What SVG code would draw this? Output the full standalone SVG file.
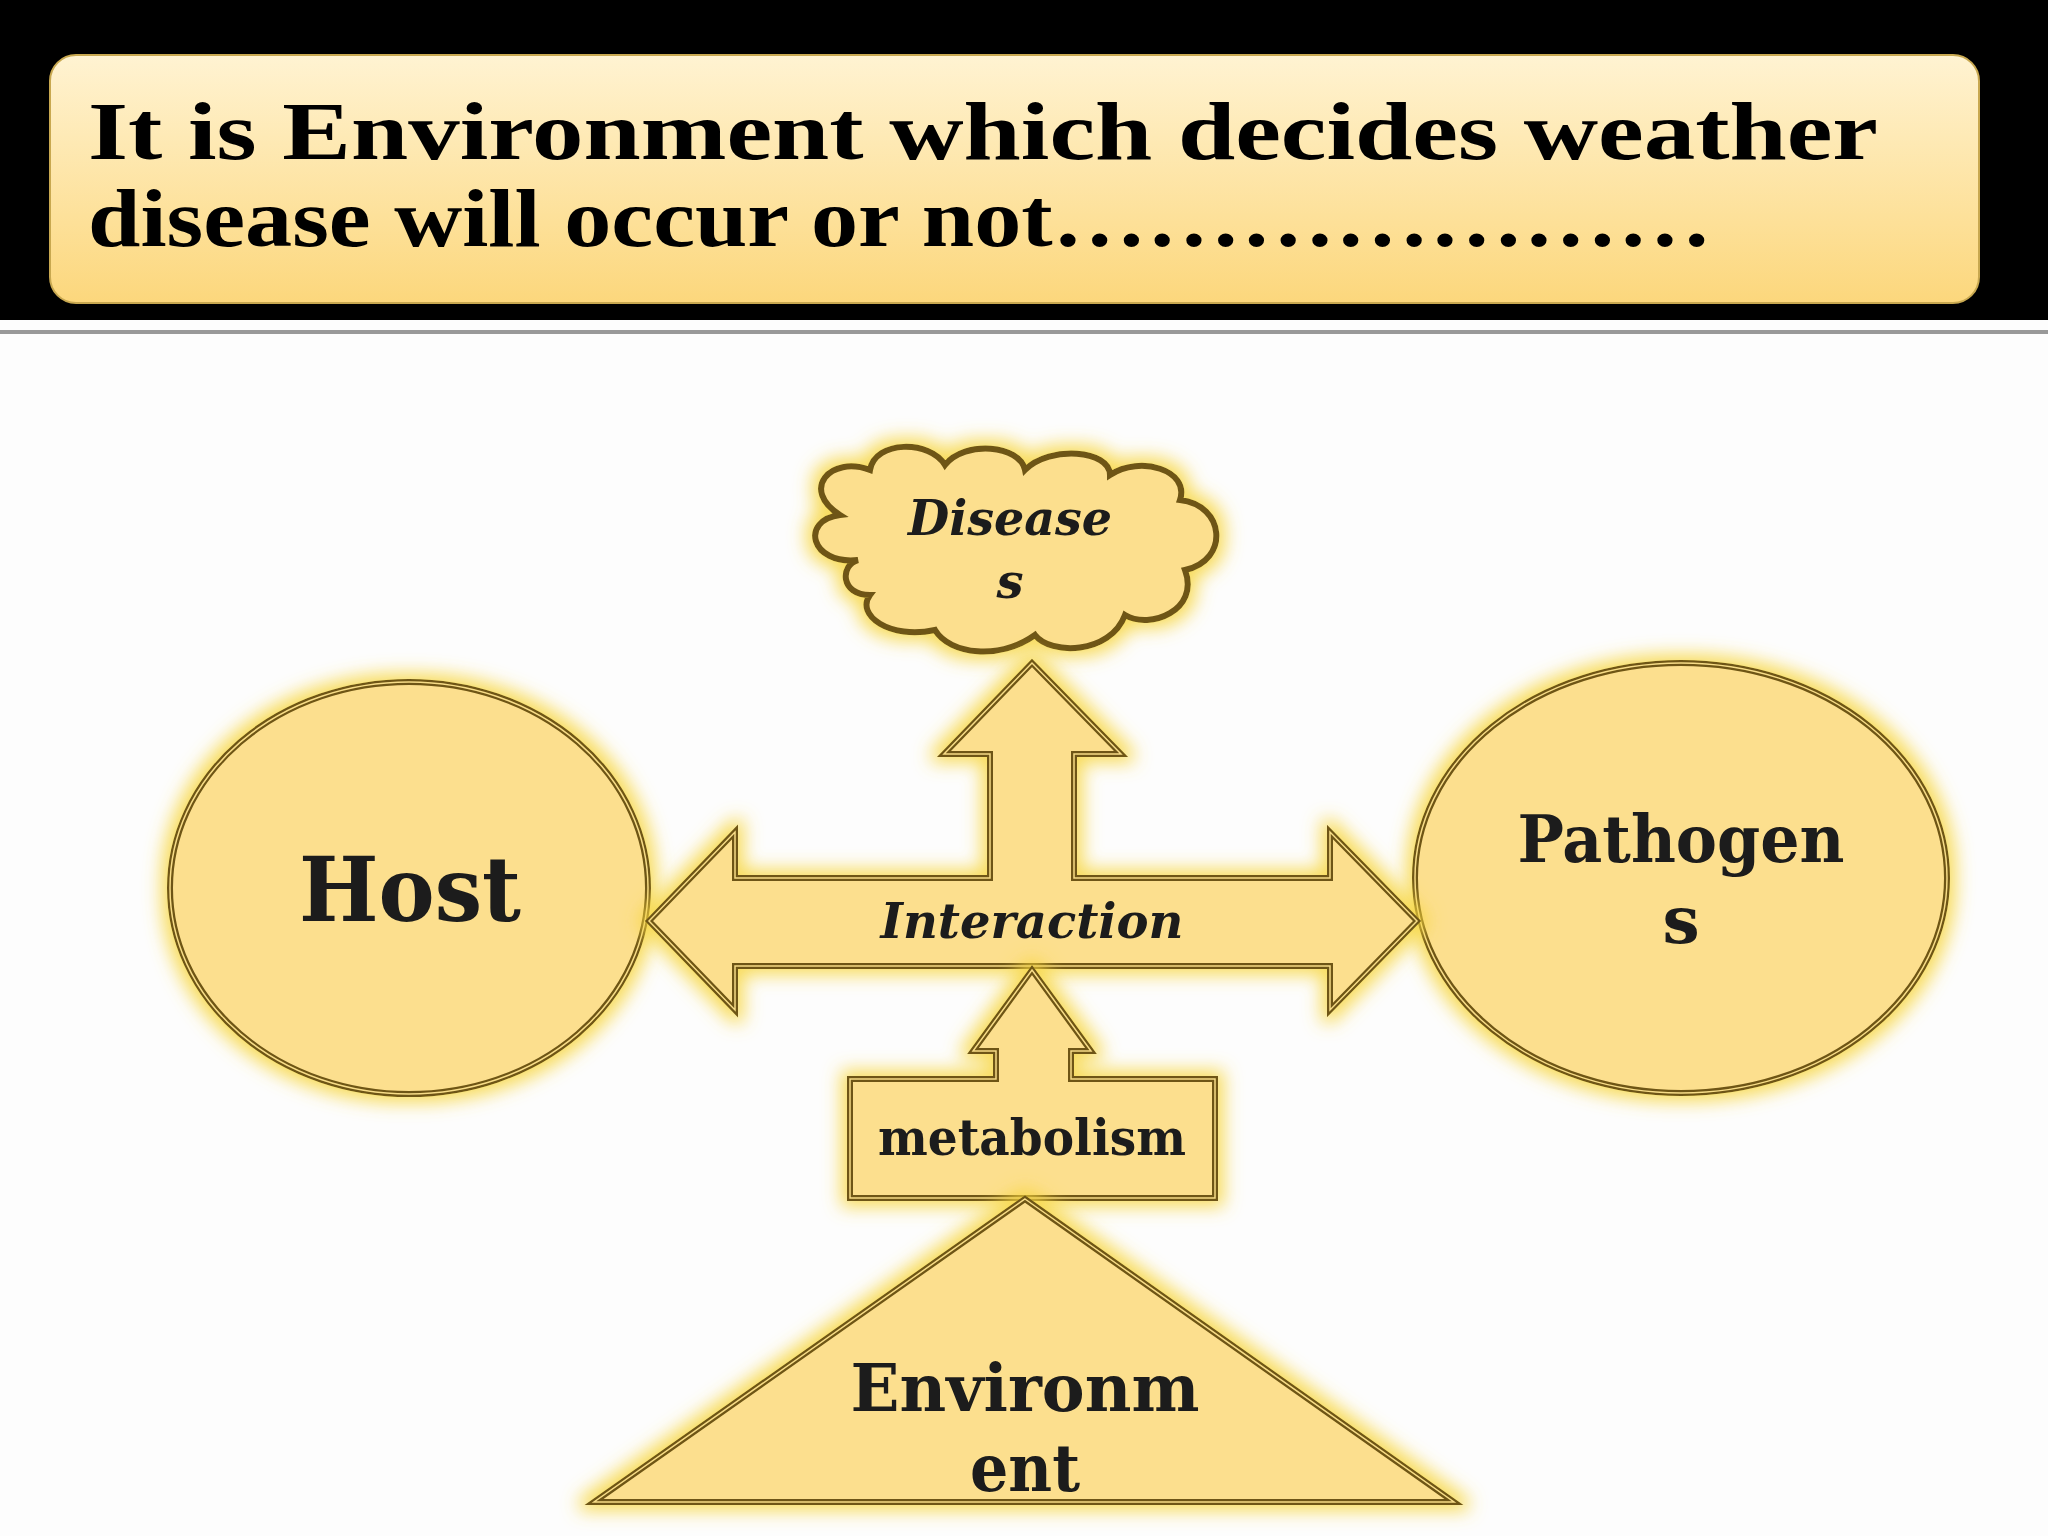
<svg xmlns="http://www.w3.org/2000/svg" width="2048" height="1536" viewBox="0 0 2048 1536">
<defs>
<linearGradient id="tg" x1="0" y1="0" x2="0" y2="1"><stop offset="0" stop-color="#fff3d2"/><stop offset="1" stop-color="#fcd77c"/></linearGradient>
<filter id="glow" x="-20%" y="-20%" width="140%" height="140%">
<feMorphology in="SourceAlpha" operator="dilate" radius="6" result="d"/>
<feGaussianBlur in="d" stdDeviation="9" result="b"/>
<feFlood flood-color="#f7d640" flood-opacity="0.85"/>
<feComposite in2="b" operator="in" result="g"/>
<feMerge><feMergeNode in="g"/><feMergeNode in="SourceGraphic"/></feMerge>
</filter>
<style>
.s{fill:#fcdf8e;stroke:#6e5512;stroke-width:6;stroke-linejoin:miter}
.i{fill:none;stroke:#f7dc88;stroke-width:1.5}
.t{font-family:"DejaVu Serif","Liberation Serif",serif;font-weight:bold;fill:#1a1a1a;text-anchor:middle}
.it{font-style:italic}
</style>
</defs>
<rect width="2048" height="1536" fill="#fdfdfd"/>
<rect width="2048" height="320" fill="#000"/>
<rect x="0" y="330" width="2048" height="4" fill="#999"/>
<g id="title">
<rect x="50" y="55" width="1929" height="248" rx="26" fill="url(#tg)" stroke="#c8a850" stroke-width="2"/>
<text x="88" y="159" font-family="Liberation Serif,serif" font-weight="bold" font-size="82" textLength="1790" lengthAdjust="spacingAndGlyphs">It is Environment which decides weather</text>
<text x="88" y="246" font-family="Liberation Serif,serif" font-weight="bold" font-size="82" textLength="1624" lengthAdjust="spacingAndGlyphs">disease will occur or not…………………</text>
</g>
<g id="host" filter="url(#glow)">
<ellipse class="s" cx="409" cy="888" rx="239" ry="206"/><ellipse class="i" cx="409" cy="888" rx="239" ry="206"/>
<text class="t" x="410" y="921" font-size="90" textLength="222" lengthAdjust="spacingAndGlyphs">Host</text>
</g>
<g id="pathogens" filter="url(#glow)">
<ellipse class="s" cx="1681" cy="878" rx="266" ry="215"/><ellipse class="i" cx="1681" cy="878" rx="266" ry="215"/>
<text class="t" x="1681" y="862" font-size="66" textLength="327" lengthAdjust="spacingAndGlyphs">Pathogen</text>
<text class="t" x="1681" y="943" font-size="66">s</text>
</g>
<g id="diseases" filter="url(#glow)">
<path class="s" d="M858,560 C810,565 800,520 840,515 C800,490 830,455 870,470 C875,440 930,440 945,465 C965,440 1020,445 1025,470 C1050,445 1110,450 1110,475 C1140,455 1190,470 1180,500 C1225,505 1230,560 1185,570 C1200,610 1150,630 1125,615 C1110,655 1050,655 1035,635 C1000,660 950,655 935,630 C890,640 855,615 870,595 C840,595 840,565 858,560 Z"/>
<text class="t it" x="1010" y="535" font-size="48" textLength="204" lengthAdjust="spacingAndGlyphs">Disease</text>
<text class="t it" x="1010" y="598" font-size="48">s</text>
</g>
<g id="interaction" filter="url(#glow)">
<path class="s" d="M649,921 L735,832 L735,878 L990,878 L990,754 L944,754 L1032,663 L1121,754 L1074,754 L1074,878 L1330,878 L1330,832 L1417,921 L1330,1010 L1330,966 L735,966 L735,1010 Z"/>
<path class="i" d="M649,921 L735,832 L735,878 L990,878 L990,754 L944,754 L1032,663 L1121,754 L1074,754 L1074,878 L1330,878 L1330,832 L1417,921 L1330,1010 L1330,966 L735,966 L735,1010 Z"/>
<text class="t it" x="1032" y="938" font-size="48" textLength="303" lengthAdjust="spacingAndGlyphs">Interaction</text>
</g>
<g id="metabolism" filter="url(#glow)">
<path class="s" d="M1032,970 L1091,1051 L1071,1051 L1071,1079 L1215,1079 L1215,1198 L850,1198 L850,1079 L996,1079 L996,1051 L973,1051 Z"/>
<path class="i" d="M1032,970 L1091,1051 L1071,1051 L1071,1079 L1215,1079 L1215,1198 L850,1198 L850,1079 L996,1079 L996,1051 L973,1051 Z"/>
<text class="t" x="1032" y="1155" font-size="50" textLength="308" lengthAdjust="spacingAndGlyphs">metabolism</text>
</g>
<g id="environment" filter="url(#glow)">
<path class="s" d="M1025,1199 L1454,1502 L594,1502 Z"/><path class="i" d="M1025,1199 L1454,1502 L594,1502 Z"/>
<text class="t" x="1025" y="1411" font-size="66" textLength="349" lengthAdjust="spacingAndGlyphs">Environm</text>
<text class="t" x="1025" y="1491" font-size="66" textLength="110" lengthAdjust="spacingAndGlyphs">ent</text>
</g>
<g id="connectors"></g>
</svg>
